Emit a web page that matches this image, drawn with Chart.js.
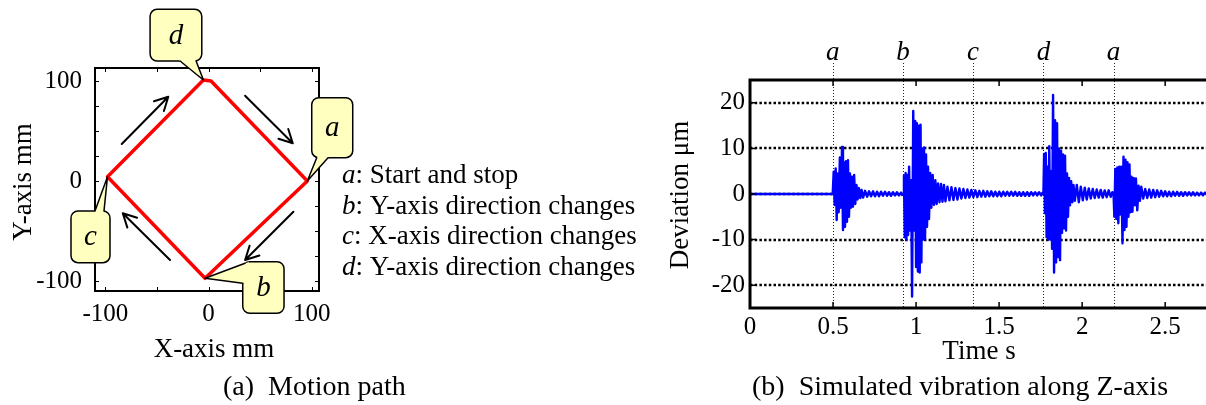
<!DOCTYPE html>
<html><head><meta charset="utf-8">
<script src="https://cdn.jsdelivr.net/npm/chart.js@4.4.0/dist/chart.umd.min.js"></script>
<style>
html,body{margin:0;padding:0;background:#fff;overflow:hidden;width:1206px;height:405px;}
#wrap{position:relative;width:1206px;height:405px;overflow:hidden;background:#fff;}
#c1{position:absolute;left:0;top:0;}
#c2{position:absolute;left:640px;top:0;}
</style></head>
<body><div id="wrap"><canvas id="c1" width="640" height="405"></canvas><canvas id="c2" width="572" height="405"></canvas></div>
<script>
// ---------------- (a) Motion path data ----------------
const pathX = [95.7, -3.4, -97.9, -5, 2.4, 95.7];
const pathY = [0, -97.3, 4.3, 101, 100, 0];
const vertexNames = ['a', 'b', 'c', 'd'];
const xTicks1 = [-100, 0, 100];
const xTickLabels1 = ['-100', '0', '100'];
const xMinorTicks1 = [-100, -50, 0, 50, 100];
const yTicks1 = [-100, 0, 100];
const yTickLabels1 = ['-100', '0', '100'];
const yMinorTicks1 = [-100, -75, -50, -25, 0, 25, 50, 75, 100];
const arrowTailX = [-84.1, 35.4, 82.2, -37.3];
const arrowTailY = [37, 85.3, -30.7, -79];
const arrowHeadX = [-39.0, 81.6, 35.4, -83.1];
const arrowHeadY = [84.3, 37.7, -79, -32.3];
const legendKeys = ['a', 'b', 'c', 'd'];
const legendTexts = [': Start and stop', ': Y-axis direction changes', ': X-axis direction changes', ': Y-axis direction changes'];

// ---------------- (b) Simulated vibration data ----------------
const xTicks2 = [0, 0.5, 1, 1.5, 2, 2.5];
const xTickLabels2 = ['0', '0.5', '1', '1.5', '2', '2.5'];
const yTicks2 = [-20, -10, 0, 10, 20];
const yTickLabels2 = ['-20', '-10', '0', '10', '20'];
const eventTimes = [0.499, 0.921, 1.343, 1.767, 2.189];
const eventLabels = ['a', 'b', 'c', 'd', 'a'];

const quietT = [0, 0.498];
const quietV = [0, 0];
const burstA_T = [0.504,0.510,0.516,0.522,0.528,0.534,0.541,0.548,0.554,0.560,0.566,0.572,0.578,0.584,0.590,0.596,0.602,0.608,0.614,0.620,0.627,0.634,0.641,0.648,0.656,0.664,0.672,0.681];
const burstA_V = [4.9,-2.4,5.6,-5.7,4.5,-4.0,8.0,-3.0,10.3,-7.9,7.0,-7.2,7.2,-6.1,7.4,-5.0,4.5,-3.0,3.8,-2.8,4.2,-2.2,2.0,-1.2,1.3,-0.9,0.9,-0.8];
const tailA_T = [0.693,0.705,0.717,0.729,0.741,0.753,0.765,0.777,0.789,0.801,0.813,0.825,0.837,0.849,0.861,0.873,0.885,0.897,0.909,0.916];
const tailA_V = [0.7,-0.6,0.6,-0.5,0.6,-0.5,0.5,-0.5,0.5,-0.4,0.5,-0.4,0.4,-0.4,0.4,-0.3,0.4,-0.3,0.3,-0.2];
const burstB_T = [0.922,0.927,0.932,0.937,0.942,0.947,0.952,0.958,0.964,0.970,0.976,0.983,0.989,0.995,1.000,1.005,1.011,1.017,1.022,1.027,1.032,1.037,1.042,1.048,1.054,1.060,1.066,1.072,1.078,1.085,1.092,1.100,1.108,1.116,1.124,1.132,1.141,1.150,1.159,1.168,1.177];
const burstB_V = [0,4.0,-9.5,4.6,-10.0,4.2,-9.0,6.0,-8.0,3.0,-22.5,18.2,-8.0,16.0,-16.0,15.5,-17.0,15.0,-17.2,15.2,-15.0,10.0,-10.0,10.2,-10.0,8.7,-7.2,6.0,-5.5,4.6,-3.0,4.2,-2.4,3.0,-2.2,2.3,-1.8,2.2,-1.7,2.0,-1.6];
const tailB_T = [1.189,1.201,1.213,1.225,1.237,1.249,1.261,1.273,1.285,1.297,1.309,1.321,1.333,1.345,1.357,1.369,1.381,1.393,1.405,1.417,1.429,1.441,1.453,1.465,1.477,1.489,1.501,1.513,1.525,1.537,1.549,1.561,1.573,1.585,1.597,1.609,1.621,1.633,1.645,1.657,1.669,1.681,1.693,1.705,1.717,1.729,1.741,1.753,1.762];
const tailB_V = [1.6,-1.4,1.5,-1.3,1.3,-1.2,1.2,-1.0,1.1,-0.9,1.0,-0.8,0.9,-0.7,0.8,-0.7,0.7,-0.6,0.7,-0.6,0.6,-0.5,0.6,-0.5,0.5,-0.5,0.5,-0.5,0.5,-0.4,0.5,-0.4,0.5,-0.4,0.5,-0.4,0.4,-0.4,0.4,-0.4,0.4,-0.4,0.4,-0.3,0.4,-0.3,0.4,-0.3,0.3];
const burstD_T = [1.767,1.771,1.776,1.781,1.786,1.791,1.796,1.802,1.808,1.814,1.819,1.825,1.831,1.837,1.843,1.849,1.855,1.861,1.867,1.873,1.879,1.885,1.891,1.897,1.903,1.909,1.915,1.921,1.927,1.934,1.941,1.948,1.956];
const burstD_V = [0.2,8.8,-4.2,9.0,-9.5,6.0,-10.0,10.5,-10.0,5.0,-12.0,21.7,-17.2,16.2,-15.0,15.5,-13.8,10.0,-14.5,9.5,-8.5,8.7,-7.5,8.4,-8.0,4.5,-5.0,3.5,-2.5,2.8,-1.8,2.0,-1.5];
const tailD_T = [1.968,1.980,1.992,2.004,2.016,2.028,2.040,2.052,2.064,2.076,2.088,2.100,2.112,2.124,2.136,2.148,2.160,2.172,2.182];
const tailD_V = [2.0,-1.8,1.6,-1.4,1.4,-1.2,1.2,-1.0,1.1,-0.9,1.0,-0.8,0.9,-0.8,0.8,-0.7,0.8,-0.6,0.4];
const burstA2_T = [2.189,2.194,2.200,2.206,2.212,2.218,2.224,2.230,2.236,2.243,2.249,2.255,2.261,2.267,2.273,2.279,2.285,2.291,2.297,2.303,2.310,2.317,2.324,2.332,2.340,2.348,2.356];
const burstA2_V = [0.2,-5.0,5.5,-5.5,5.8,-6.4,6.0,-4.5,6.0,-10.8,8.2,-7.9,7.5,-7.2,7.0,-5.0,6.5,-4.0,3.8,-3.9,3.5,-2.5,3.4,-3.6,1.8,-1.5,1.6];
const tailA2_T = [2.368,2.380,2.392,2.404,2.416,2.428,2.440,2.452,2.464,2.476,2.488,2.500,2.512,2.524,2.536,2.548,2.560,2.572,2.584,2.596,2.608,2.620,2.632,2.644,2.656,2.668,2.680,2.692,2.704,2.716,2.728,2.740,2.752,2.764,2.776];
const tailA2_V = [-1.0,1.1,-0.9,1.0,-0.8,0.9,-0.7,0.8,-0.6,0.7,-0.5,0.6,-0.5,0.5,-0.5,0.5,-0.4,0.5,-0.4,0.4,-0.4,0.4,-0.3,0.4,-0.3,0.4,-0.3,0.3,-0.3,0.3,-0.3,0.3,-0.2,0.3,-0.2];

// ---------------- helpers ----------------
const SERIF = "'Liberation Serif','Times New Roman',serif";
const sigT = [].concat(quietT, burstA_T, tailA_T, burstB_T, tailB_T, burstD_T, tailD_T, burstA2_T, tailA2_T);
const sigV = [].concat(quietV, burstA_V, tailA_V, burstB_V, tailB_V, burstD_V, tailD_V, burstA2_V, tailA2_V);

function roundRect(ctx, x, y, w, h, r) {
  ctx.beginPath();
  ctx.moveTo(x + r, y);
  ctx.lineTo(x + w - r, y); ctx.arcTo(x + w, y, x + w, y + r, r);
  ctx.lineTo(x + w, y + h - r); ctx.arcTo(x + w, y + h, x + w - r, y + h, r);
  ctx.lineTo(x + r, y + h); ctx.arcTo(x, y + h, x, y + h - r, r);
  ctx.lineTo(x, y + r); ctx.arcTo(x, y, x + r, y, r);
  ctx.closePath();
}

// callout styling (offsets in px from the path vertex it points at)
const calloutStyle = [
  {v: 0, box: [4.4, -83.3, 41, 60], base: [[9.4, -23.3], [20.7, -23.3]]},
  {v: 1, box: [37.7, -16.6, 41.3, 51.6], base: [[40, -15], [37.7, 5]]},
  {v: 2, box: [-36.5, 34.3, 39, 51.7], base: [[-12.5, 34.3], [-3.5, 34.3]]},
  {v: 3, box: [-53.3, -70.7, 51.7, 51.7], base: [[-23.3, -19], [-7.3, -19]]}
];

const leftDecor = {
  id: 'leftDecor',
  afterDatasetsDraw(chart) {
    const {ctx, chartArea: ca, scales: {x, y}} = chart;
    ctx.save();
    ctx.strokeStyle = '#000'; ctx.lineWidth = 2;
    ctx.strokeRect(ca.left, ca.top, ca.right - ca.left, ca.bottom - ca.top);
    ctx.lineWidth = 1;
    ctx.beginPath();
    xMinorTicks1.forEach(v => { const px = Math.round(x.getPixelForValue(v)) + 0.5;
      ctx.moveTo(px, ca.bottom); ctx.lineTo(px, ca.bottom - 4); ctx.moveTo(px, ca.top); ctx.lineTo(px, ca.top + 4); });
    yMinorTicks1.forEach(v => { const py = Math.round(y.getPixelForValue(v)) + 0.5;
      ctx.moveTo(ca.left, py); ctx.lineTo(ca.left + 4, py); ctx.moveTo(ca.right, py); ctx.lineTo(ca.right - 4, py); });
    ctx.stroke();
    ctx.lineWidth = 2; ctx.lineCap = 'round'; ctx.lineJoin = 'round';
    for (let i = 0; i < arrowTailX.length; i++) {
      const tx = x.getPixelForValue(arrowTailX[i]), ty = y.getPixelForValue(arrowTailY[i]);
      const hx = x.getPixelForValue(arrowHeadX[i]), hy = y.getPixelForValue(arrowHeadY[i]);
      const ang = Math.atan2(hy - ty, hx - tx), L = 15, a = 0.48;
      ctx.beginPath();
      ctx.moveTo(tx, ty); ctx.lineTo(hx, hy);
      ctx.moveTo(hx - L * Math.cos(ang - a), hy - L * Math.sin(ang - a));
      ctx.lineTo(hx, hy);
      ctx.lineTo(hx - L * Math.cos(ang + a), hy - L * Math.sin(ang + a));
      ctx.stroke();
    }
    calloutStyle.forEach(c => {
      const vx = x.getPixelForValue(pathX[c.v]), vy = y.getPixelForValue(pathY[c.v]);
      const [dx, dy, w, h] = c.box;
      ctx.fillStyle = '#ffffc0'; ctx.strokeStyle = '#000'; ctx.lineWidth = 1.5;
      roundRect(ctx, vx + dx, vy + dy, w, h, 7);
      ctx.fill(); ctx.stroke();
      const b = c.base.map(p => [vx + p[0], vy + p[1]]);
      const ext = b.map(p => { const ddx = p[0] - vx, ddy = p[1] - vy, d = Math.hypot(ddx, ddy); return [p[0] + ddx / d * 4, p[1] + ddy / d * 4]; });
      ctx.beginPath(); ctx.moveTo(vx, vy); ctx.lineTo(ext[0][0], ext[0][1]); ctx.lineTo(ext[1][0], ext[1][1]); ctx.closePath(); ctx.fill();
      ctx.beginPath(); ctx.moveTo(b[0][0], b[0][1]); ctx.lineTo(vx, vy); ctx.lineTo(b[1][0], b[1][1]); ctx.stroke();
      ctx.fillStyle = '#000'; ctx.font = 'italic 29px ' + SERIF; ctx.textAlign = 'center'; ctx.textBaseline = 'middle';
      ctx.fillText(vertexNames[c.v], vx + dx + w / 2, vy + dy + h / 2 + 1);
    });
    ctx.restore();
  },
  afterDraw(chart) {
    const {ctx, chartArea: ca} = chart;
    ctx.save();
    ctx.fillStyle = '#000';
    ctx.font = '27px ' + SERIF; ctx.textAlign = 'center'; ctx.textBaseline = 'alphabetic';
    ctx.fillText('X-axis mm', 214, 357);
    ctx.save(); ctx.translate(31, 182); ctx.rotate(-Math.PI / 2); ctx.fillText('Y-axis mm', 0, 0); ctx.restore();
    ctx.textAlign = 'left';
    for (let i = 0; i < legendKeys.length; i++) {
      const yb = 183 + i * 30.7; let xx = ca.right + 23;
      ctx.font = 'italic 27px ' + SERIF; ctx.fillText(legendKeys[i], xx, yb);
      xx += ctx.measureText(legendKeys[i]).width;
      ctx.font = '27px ' + SERIF; ctx.fillText(legendTexts[i], xx, yb);
    }
    ctx.font = '28px ' + SERIF;
    ctx.fillText('(a)\u00a0\u00a0Motion path', 223, 395);
    ctx.restore();
  }
};

const rightDecor = {
  id: 'rightDecor',
  beforeDatasetsDraw(chart) {
    const {ctx, chartArea: ca, scales: {x, y}} = chart;
    ctx.save();
    ctx.strokeStyle = '#000'; ctx.lineWidth = 2.5; ctx.setLineDash([2.5, 2.2]);
    yTicks2.forEach(v => { const py = Math.round(y.getPixelForValue(v));
      ctx.beginPath(); ctx.moveTo(ca.left, py); ctx.lineTo(ca.right, py); ctx.stroke(); });
    ctx.lineWidth = 1; ctx.setLineDash([1, 2]); ctx.strokeStyle = '#222';
    eventTimes.forEach(t => { const px = Math.round(x.getPixelForValue(t)) + 0.5;
      ctx.beginPath(); ctx.moveTo(px, 63); ctx.lineTo(px, ca.bottom); ctx.stroke(); });
    ctx.restore();
  },
  afterDatasetsDraw(chart) {
    const {ctx, chartArea: ca, scales: {x, y}} = chart;
    ctx.save();
    ctx.strokeStyle = '#000'; ctx.lineWidth = 3;
    ctx.strokeRect(ca.left, ca.top, ca.right - ca.left, ca.bottom - ca.top);
    ctx.lineWidth = 1.5; ctx.beginPath();
    xTicks2.forEach(v => { const px = x.getPixelForValue(v);
      ctx.moveTo(px, ca.bottom); ctx.lineTo(px, ca.bottom - 6); ctx.moveTo(px, ca.top); ctx.lineTo(px, ca.top + 6); });
    yTicks2.forEach(v => { const py = y.getPixelForValue(v);
      ctx.moveTo(ca.left, py); ctx.lineTo(ca.left + 6, py); });
    ctx.stroke();
    ctx.restore();
  },
  afterDraw(chart) {
    const {ctx, scales: {x}} = chart;
    ctx.save(); ctx.fillStyle = '#000';
    ctx.font = 'italic 27px ' + SERIF; ctx.textAlign = 'center'; ctx.textBaseline = 'alphabetic';
    eventTimes.forEach((t, i) => ctx.fillText(eventLabels[i], x.getPixelForValue(t), 60));
    ctx.font = '27px ' + SERIF;
    ctx.fillText('Time s', 339, 359);
    ctx.save(); ctx.translate(48, 195); ctx.rotate(-Math.PI / 2); ctx.fillText('Deviation \u03bcm', 0, 0); ctx.restore();
    ctx.textAlign = 'left';
    ctx.font = '28px ' + SERIF;
    ctx.fillText('(b)\u00a0\u00a0Simulated vibration along Z-axis', 112, 395);
    ctx.restore();
  }
};

const tickFont1 = {family: SERIF, size: 25};
const tickFont2 = {family: SERIF, size: 25};

new Chart(document.getElementById('c1'), {
  type: 'scatter',
  data: { datasets: [{
    data: pathX.map((v, i) => ({x: v, y: pathY[i]})),
    showLine: true, borderColor: '#ff0000', borderWidth: 3.5, pointRadius: 0,
    borderJoinStyle: 'round', borderCapStyle: 'round', tension: 0
  }]},
  options: {
    responsive: false, animation: false, devicePixelRatio: 1, events: [],
    layout: {padding: {left: 0, top: 68, right: 321, bottom: 0}},
    plugins: {legend: {display: false}, tooltip: {enabled: false}},
    scales: {
      x: {type: 'linear', min: -110, max: 107,
        grid: {display: false, drawTicks: false}, border: {display: false},
        afterBuildTicks: s => { s.ticks = xTicks1.map(v => ({value: v})); },
        afterFit: s => { s.height = 114; },
        ticks: {font: tickFont1, color: '#000', padding: 8, maxRotation: 0, autoSkip: false,
          callback: (v, i) => xTickLabels1[i]}},
      y: {type: 'linear', min: -110, max: 113,
        grid: {display: false, drawTicks: false}, border: {display: false},
        afterBuildTicks: s => { s.ticks = yTicks1.map(v => ({value: v})); },
        afterFit: s => { s.width = 95; },
        ticks: {font: tickFont1, color: '#000', padding: 13, autoSkip: false,
          callback: (v, i) => yTickLabels1[i]}}
    }
  },
  plugins: [leftDecor]
});

new Chart(document.getElementById('c2'), {
  type: 'scatter',
  data: { datasets: [{
    data: sigT.map((t, i) => ({x: t, y: sigV[i]})),
    showLine: true, borderColor: '#0000ff', borderWidth: 2.4, pointRadius: 0, tension: 0,
    borderJoinStyle: 'round'
  }]},
  options: {
    responsive: false, animation: false, devicePixelRatio: 1, events: [],
    layout: {padding: {left: 0, top: 80, right: 2, bottom: 0}},
    plugins: {legend: {display: false}, tooltip: {enabled: false}},
    scales: {
      x: {type: 'linear', min: 0, max: 2.77,
        grid: {display: false, drawTicks: false}, border: {display: false},
        afterBuildTicks: s => { s.ticks = xTicks2.map(v => ({value: v})); },
        afterFit: s => { s.height = 97; },
        ticks: {font: tickFont2, color: '#000', padding: 4, maxRotation: 0, autoSkip: false,
          callback: (v, i) => xTickLabels2[i]}},
      y: {type: 'linear', min: -25, max: 25,
        grid: {display: false, drawTicks: false}, border: {display: false},
        afterBuildTicks: s => { s.ticks = yTicks2.map(v => ({value: v})); },
        afterFit: s => { s.width = 110; },
        ticks: {font: tickFont2, color: '#000', padding: 5, autoSkip: false,
          callback: (v, i) => yTickLabels2[i]}}
    }
  },
  plugins: [rightDecor]
});
</script>
</body></html>
